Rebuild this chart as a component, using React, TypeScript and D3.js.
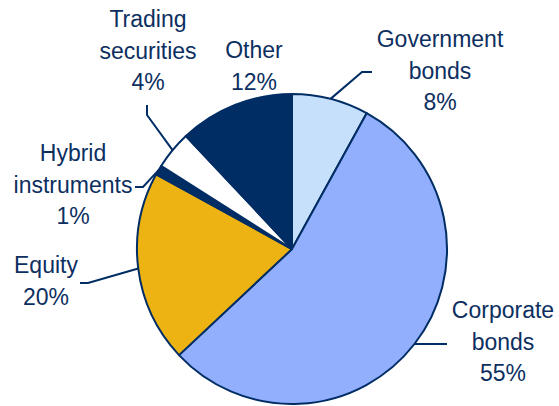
import React from "react";
import * as d3 from "d3";

const categories = ["Government bonds", "Corporate bonds", "Equity", "Hybrid instruments", "Trading securities", "Other"];
const values = [8, 55, 20, 1, 4, 12];
const labelLines = [
  ["Government", "bonds", "8%"],
  ["Corporate", "bonds", "55%"],
  ["Equity", "20%"],
  ["Hybrid", "instruments", "1%"],
  ["Trading", "securities", "4%"],
  ["Other", "12%"],
];
const colors = ["#C6E0FB", "#91AFFD", "#EDB312", "#002D64", "#FFFFFF", "#002D64"];

const W = 559;
const H = 406;
const cx = 292;
const cy = 249;
const R = 155;
const navy = "#002D64";
const textColor = "#0D2F5F";

// label layout: text center x, first baseline y
const labelPos = [
  { x: 440, y: 47 },
  { x: 503, y: 318 },
  { x: 46, y: 273 },
  { x: 73, y: 161 },
  { x: 148, y: 27 },
  { x: 254, y: 58 },
];
// leader polylines after the arc-edge start point
const leaderPts: ([number, number][] | null)[] = [
  [[362, 72], [372, 72]],
  [[447, 344]],
  [[88, 283], [80, 283]],
  [[143, 187], [135, 187]],
  [[147, 115], [147, 105]],
  null,
];

export default function App() {
  const pie = d3.pie<number>().sort(null).value((d) => d)(values);
  const arc = d3.arc<d3.PieArcDatum<number>>().innerRadius(0).outerRadius(R);
  const lineGen = d3.line();
  return (
    <svg width={W} height={H} style={{ position: "absolute", left: 0, top: 0 }}>
      <g transform={`translate(${cx},${cy})`}>
        {pie.map((p, i) => (
          <path key={categories[i]} d={arc(p) || ""} fill={colors[i]} stroke={navy} strokeWidth={2} strokeLinejoin="round" />
        ))}
      </g>
      {pie.map((p, i) => {
        const pts = leaderPts[i];
        if (!pts) return null;
        const a = (p.startAngle + p.endAngle) / 2;
        const sx = cx + R * Math.sin(a);
        const sy = cy - R * Math.cos(a);
        const all: [number, number][] = [[sx, sy], ...pts];
        return <path key={"l" + i} d={lineGen(all) || ""} fill="none" stroke={navy} strokeWidth={2} />;
      })}
      {labelLines.map((lines, i) => (
        <text
          key={"t" + i}
          x={labelPos[i].x}
          y={labelPos[i].y}
          textAnchor="middle"
          fontFamily="'Liberation Sans', Arial, sans-serif"
          fontSize={23}
          fill={textColor}
        >
          {lines.map((ln, j) => (
            <tspan key={j} x={labelPos[i].x} y={labelPos[i].y + j * 31.7}>
              {ln}
            </tspan>
          ))}
        </text>
      ))}
    </svg>
  );
}
